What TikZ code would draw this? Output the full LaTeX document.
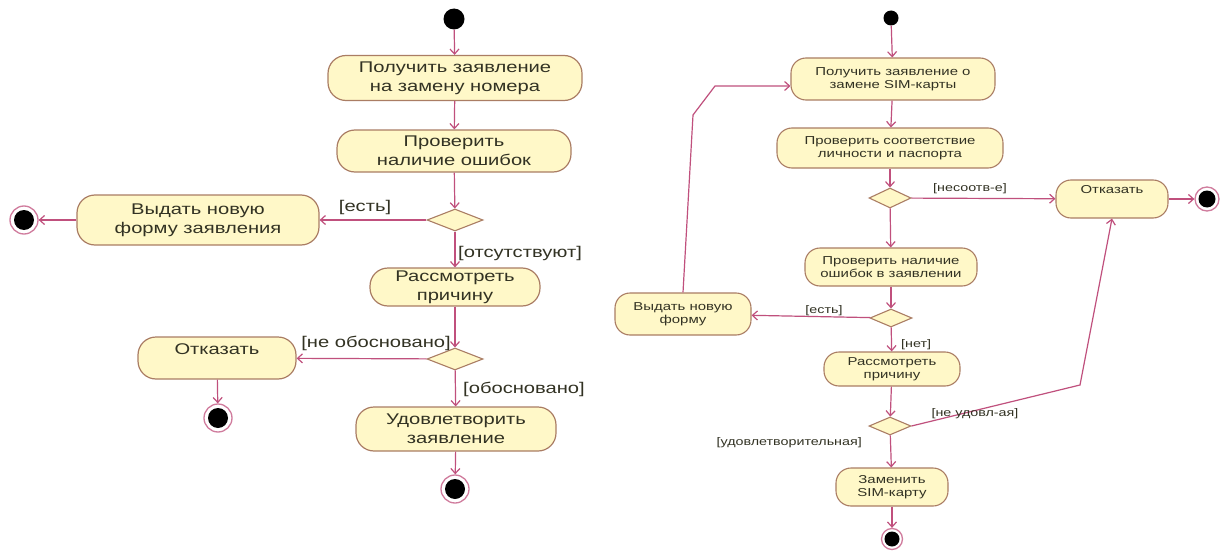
\documentclass[tikz,border=0pt]{standalone}
\usepackage{fontspec}
\setmainfont{Liberation Sans}
\newfontfamily\wf[FakeStretch=1.3]{Liberation Sans}
\usetikzlibrary{shapes.geometric,arrows.meta}
\definecolor{fil}{RGB}{255,248,200}
\definecolor{brd}{RGB}{170,125,100}
\definecolor{arr}{RGB}{192,80,125}
\definecolor{txt}{RGB}{50,50,35}
\tikzset{
  actL/.style={draw=brd, fill=fil, line width=1.2pt, rounded corners=18pt, align=center,
    inner sep=0pt, text=txt, font=\wf\fontsize{15.5}{19}\selectfont},
  actR/.style={draw=brd, fill=fil, line width=1.1pt, rounded corners=15pt, align=center,
    inner sep=0pt, text=txt, font=\wf\fontsize{11.5}{13.5}\selectfont},
  dec/.style={diamond, draw=brd, fill=fil, line width=1.1pt, inner sep=0pt},
  flow/.style={draw=arr, line width=1.2pt, -{Straight Barb[length=5pt,width=9pt]}},
  startdot/.style={circle, fill=black, inner sep=0pt},
  enddot/.style={circle, draw=arr!75, line width=1.3pt, fill=white, inner sep=0pt,
    path picture={\fill[black] (path picture bounding box.center) circle (#1);}},
  lblL/.style={text=txt, inner sep=1pt, font=\wf\fontsize{15.5}{18}\selectfont},
  lblR/.style={text=txt, inner sep=1pt, font=\wf\fontsize{11}{13}\selectfont},
}
\begin{document}
\begin{tikzpicture}[x=1pt,y=-1pt]
\useasboundingbox (0,0) rectangle (1224,551);
\fill[white] (0,0) rectangle (1224,551);
% ---------- left diagram ----------
\node[startdot, minimum size=21pt] (s1) at (454,19) {};
\node[actL, minimum width=254pt, minimum height=45pt] (A1) at (455,78) {Получить заявление\\на замену номера};
\node[actL, minimum width=234pt, minimum height=42pt] (A2) at (454,151) {Проверить\\наличие ошибок};
\node[dec, minimum width=56pt, minimum height=22pt] (D1) at (455,220) {};
\node[actL, minimum width=242pt, minimum height=50pt] (A3) at (198,220) {Выдать новую\\форму заявления};
\node[enddot=10pt, minimum size=28pt] (e1) at (24,220) {};
\node[actL, minimum width=170pt, minimum height=38pt] (A4) at (455,287) {Рассмотреть\\причину};
\node[dec, minimum width=56pt, minimum height=22pt] (D2) at (455,359) {};
\node[actL, minimum width=158pt, minimum height=42pt,
  label={[lblL, anchor=north, yshift=-6pt]north:Отказать}] (A5) at (217,358) {};
\node[enddot=10pt, minimum size=28pt] (e2) at (218,418) {};
\node[actL, minimum width=200pt, minimum height=44pt] (A6) at (456,429) {Удовлетворить\\заявление};
\node[enddot=10pt, minimum size=28pt] (e3) at (455,489) {};

\draw[flow] (s1) -- (A1);
\draw[flow] (A1) -- (A2);
\draw[flow] (A2) -- (D1);
\draw[flow] (D1) -- (A3);
\draw[flow] (A3) -- (e1);
\draw[flow] (D1) -- (A4);
\draw[flow] (A4) -- (D2);
\draw[flow] (D2) -- (A5);
\draw[flow] (A5) -- (e2);
\draw[flow] (D2) -- (A6);
\draw[flow] (A6) -- (e3);

\node[lblL] (l1) at (365,207) {[есть]};
\node[lblL, anchor=west] (l2) at (457,253) {[отсутствуют]};
\node[lblL, anchor=east] (l3) at (452,343) {[не обосновано]};
\node[lblL, anchor=west] (l4) at (462,389) {[обосновано]};

% ---------- right diagram ----------
\node[startdot, minimum size=15pt] (s2) at (891,18) {};
\node[actR, minimum width=204pt, minimum height=42pt] (B1) at (893,79) {Получить заявление о\\замене SIM-карты};
\node[actR, minimum width=226pt, minimum height=40pt] (B2) at (890,148) {Проверить соответствие\\личности и паспорта};
\node[dec, minimum width=42pt, minimum height=20pt] (D3) at (890,198) {};
\node[actR, minimum width=112pt, minimum height=38pt,
  label={[lblR, font=\wf\fontsize{11.5}{13}\selectfont, anchor=north, yshift=-5pt]north:Отказать}] (B3) at (1112,199) {};
\node[enddot=8.5pt, minimum size=24pt] (e4) at (1207,199) {};
\node[actR, minimum width=172pt, minimum height=38pt] (B4) at (891,267) {Проверить наличие\\ошибок в заявлении};
\node[dec, minimum width=42pt, minimum height=18pt] (D4) at (891,318) {};
\node[actR, minimum width=136pt, minimum height=42pt] (B5) at (683,314) {Выдать новую\\форму};
\node[actR, minimum width=136pt, minimum height=34pt] (B6) at (892,369) {Рассмотреть\\причину};
\node[dec, minimum width=42pt, minimum height=18pt] (D5) at (890,426) {};
\node[actR, minimum width=112pt, minimum height=38pt] (B7) at (892,487) {Заменить\\SIM-карту};
\node[enddot=7.5pt, minimum size=21pt] (e5) at (892,539) {};

\coordinate (k1) at (693,115);
\coordinate (k2) at (715,86);
\coordinate (k3) at (1080,385);

\draw[flow] (s2) -- (B1);
\draw[flow] (B1) -- (B2);
\draw[flow] (B2) -- (D3);
\draw[flow] (D3) -- (B3);
\draw[flow] (B3) -- (e4);
\draw[flow] (D3) -- (B4);
\draw[flow] (B4) -- (D4);
\draw[flow] (D4) -- (B5);
\draw[flow] (B5.north) -- (k1) -- (k2) -- (B1.west |- k2);
\draw[flow] (D4) -- (B6);
\draw[flow] (B6) -- (D5);
\draw[flow] (D5) -- (B7);
\draw[flow] (D5.east) -- (k3) -- (B3.south);
\draw[flow] (B7) -- (e5);

\node[lblR] (r1) at (970,189) {[несоотв-е]};
\node[lblR] (r2) at (824,311) {[есть]};
\node[lblR, anchor=west] (r3) at (900,345) {[нет]};
\node[lblR] (r4) at (975,414) {[не удовл-ая]};
\node[lblR, anchor=east] (r5) at (863,443) {[удовлетворительная]};
\end{tikzpicture}
\end{document}
